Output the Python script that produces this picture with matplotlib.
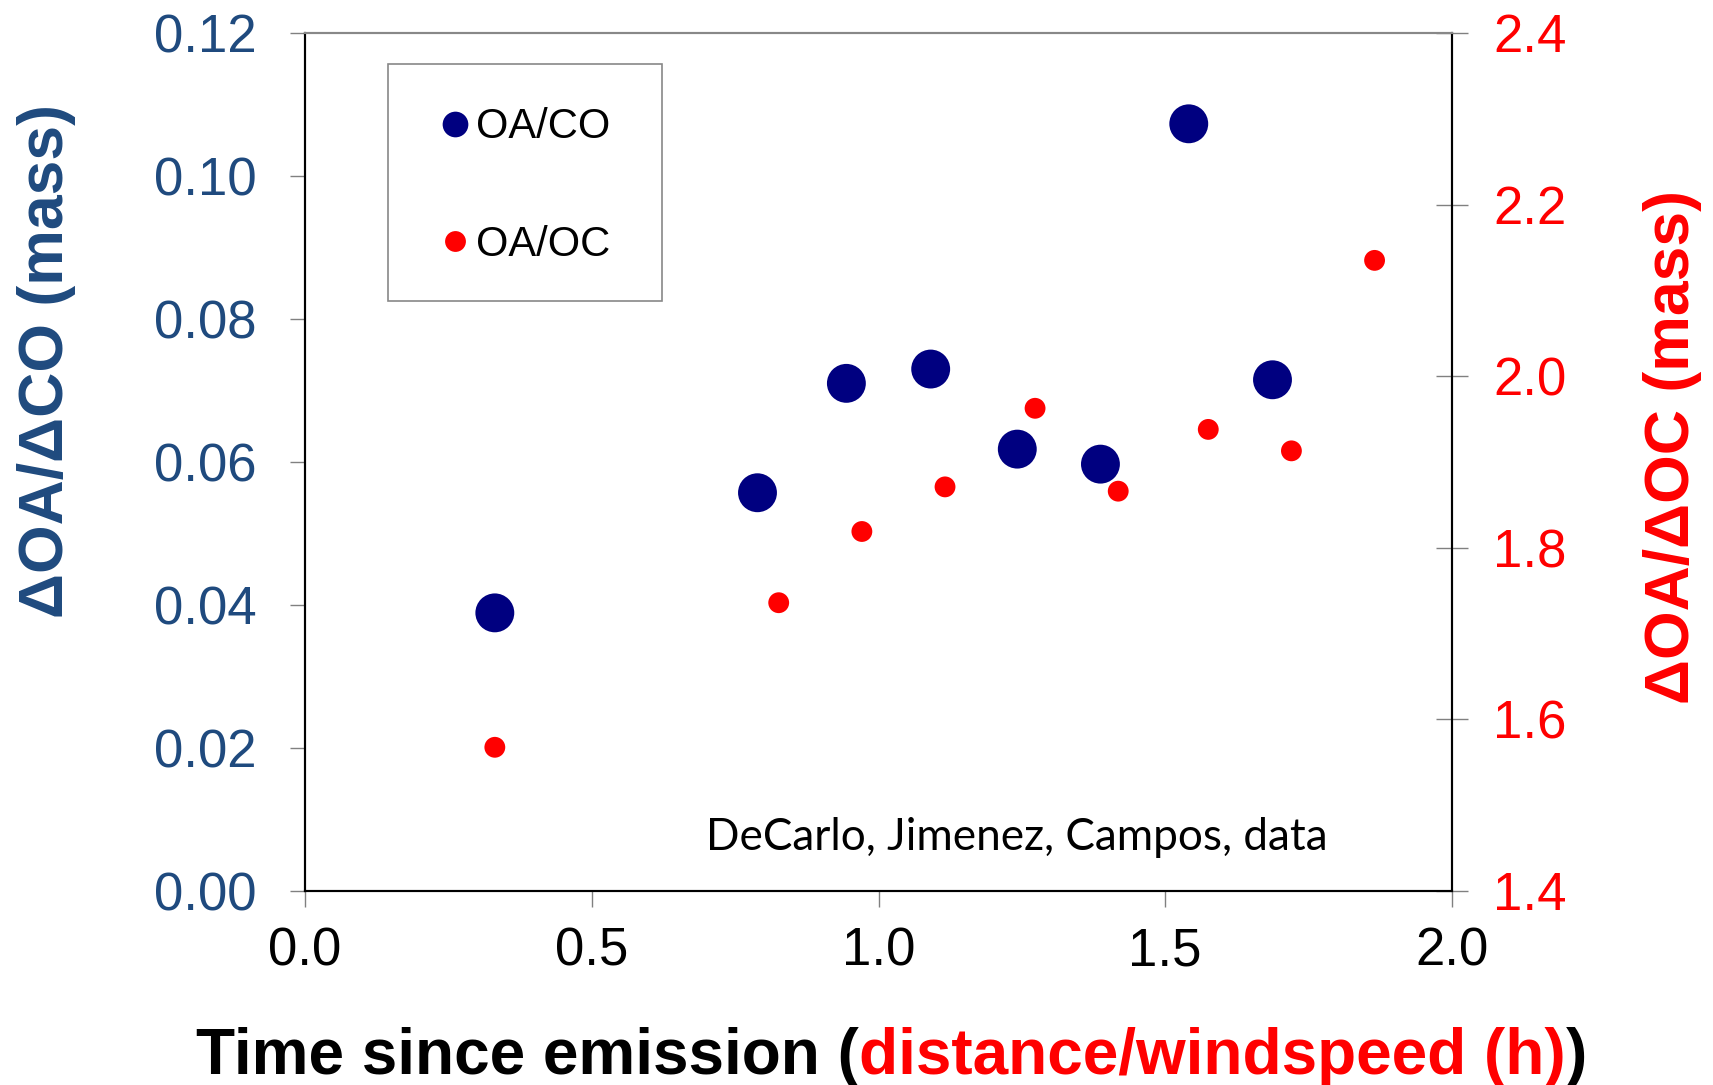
import matplotlib
matplotlib.use('Agg')
import matplotlib.pyplot as plt
from matplotlib.lines import Line2D
from matplotlib.patches import Rectangle

# ---- data ----
time_co = [0.331, 0.789, 0.944, 1.091, 1.242, 1.387, 1.541, 1.687]
oa_co = [0.0389, 0.0557, 0.0710, 0.0730, 0.0618, 0.0597, 0.1073, 0.0715]
time_oc = [0.331, 0.826, 0.971, 1.116, 1.273, 1.418, 1.575, 1.720, 1.865]
oa_oc = [1.5675, 1.736, 1.819, 1.871, 1.9626, 1.866, 1.938, 1.913, 2.135]

x_ticks = [0.0, 0.5, 1.0, 1.5, 2.0]
x_tick_labels = ["0.0", "0.5", "1.0", "1.5", "2.0"]
left_ticks = [0.00, 0.02, 0.04, 0.06, 0.08, 0.10, 0.12]
left_tick_labels = ["0.00", "0.02", "0.04", "0.06", "0.08", "0.10", "0.12"]
right_ticks = [1.4, 1.6, 1.8, 2.0, 2.2, 2.4]
right_tick_labels = ["1.4", "1.6", "1.8", "2.0", "2.2", "2.4"]

label_co = "OA/CO"
label_oc = "OA/OC"
ylabel_left = "\u0394OA/\u0394CO (mass)"
ylabel_right = "\u0394OA/\u0394OC (mass)"
credit = "DeCarlo, Jimenez, Campos, data"

BLUE_TXT = '#1F4A7E'
NAVY = '#000080'
RED = '#FF0000'
TICK_GRAY = '#808080'

plt.rcParams['font.family'] = ['Liberation Sans', 'DejaVu Sans']

W, H = 1713, 1085
fig = plt.figure(figsize=(W / 100, H / 100), dpi=100)
ax = fig.add_axes([305 / W, 1 - 891 / H, (1452 - 305) / W, (891 - 33) / H])
ax2 = ax.twinx()

ax.scatter(time_co, oa_co, s=28 ** 2, color=NAVY, edgecolors='none', zorder=3)
ax2.scatter(time_oc, oa_oc, s=15 ** 2, color=RED, edgecolors='none', zorder=3)

ax.set_xlim(0, 2.0)
ax.set_ylim(0, 0.12)
ax2.set_ylim(1.4, 2.4)

ax.set_xticks(x_ticks)
ax.set_xticklabels(x_tick_labels)
ax.set_yticks(left_ticks)
ax.set_yticklabels(left_tick_labels)
ax2.set_yticks(right_ticks)
ax2.set_yticklabels(right_tick_labels)

ax.tick_params(axis='x', direction='out', length=11.5, width=1, color=TICK_GRAY,
               labelsize=38, labelcolor='black', pad=14)
ax.tick_params(axis='y', direction='out', length=11, width=1, color=TICK_GRAY,
               labelsize=38, labelcolor=BLUE_TXT, pad=24)
ax2.tick_params(axis='y', direction='inout', length=23, width=1, color=TICK_GRAY,
                labelsize=38, labelcolor=RED, pad=18)

for a in (ax, ax2):
    a.spines['left'].set_color('black')
    a.spines['right'].set_color('black')
    a.spines['bottom'].set_color('black')
    a.spines['top'].set_color('#888888')
    for s in a.spines.values():
        s.set_linewidth(1.5)

ax.set_ylabel(ylabel_left, fontsize=45, fontweight='bold', color=BLUE_TXT, va='center')
ax.yaxis.set_label_coords(-0.225, 0.618)
ax2.set_ylabel(ylabel_right, fontsize=45, fontweight='bold', color=RED, va='center',
               rotation=90)
ax2.yaxis.set_label_coords(1.192, 0.517)

ax.text(0.3495, 0.0478, credit, transform=ax.transAxes, fontsize=31.8,
        family=['Lato', 'DejaVu Sans'], ha='left', va='baseline', color='black')

# legend
handles = [
    Line2D([], [], marker='o', ls='', color=NAVY, markersize=18.5, markeredgewidth=0),
    Line2D([], [], marker='o', ls='', color=RED, markersize=15, markeredgewidth=0),
]
leg = ax2.legend(handles, [label_co, label_oc], loc='center left',
                 bbox_to_anchor=(434 / W, 1 - 186 / H),
                 bbox_transform=fig.transFigure, frameon=False,
                 borderpad=0, borderaxespad=0, handlelength=1.0,
                 handletextpad=0.02, labelspacing=1.85, prop={'size': 30})
fig.add_artist(Rectangle((388 / W, 1 - 301 / H), 274 / W, 237 / H,
                         transform=fig.transFigure, fill=False,
                         edgecolor='#888888', linewidth=1.2))

# multi-colour x label
parts = [("Time since emission (", 'black'), ("distance/windspeed (h)", RED), (")", 'black')]
texts = [fig.text(0, 1 - 1074 / H, s, color=c, fontsize=46, fontweight='bold',
                  ha='left', va='baseline') for s, c in parts]
fig.canvas.draw()
r = fig.canvas.get_renderer()
widths = [t.get_window_extent(r).width for t in texts]
x0 = 891.5 - sum(widths) / 2
for t, w in zip(texts, widths):
    t.set_x(x0 / W)
    x0 += w

fig.savefig('out.png', dpi=100)
